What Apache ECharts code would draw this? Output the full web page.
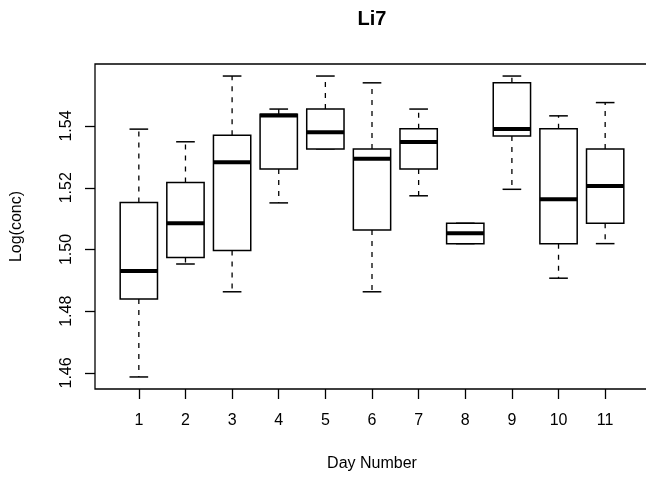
<!DOCTYPE html>
<html>
<head>
<meta charset="utf-8">
<script src="https://cdn.jsdelivr.net/npm/echarts@6/dist/echarts.min.js"></script>
<style>
  html, body { margin: 0; padding: 0; background: #fff; }
  #chart { width: 646px; height: 480px; }
</style>
</head>
<body>
<div id="chart"></div>
<script>
// Five-number summaries of Log(conc) for each sampling day
const days = [1, 2, 3, 4, 5, 6, 7, 8, 9, 10, 11];
const lowerWhisker  = [1.4587, 1.4953, 1.4863, 1.5151, 1.5326, 1.4863, 1.5174, 1.5019, 1.5195, 1.4907, 1.5019];
const lowerQuartile = [1.4840, 1.4974, 1.4997, 1.5261, 1.5326, 1.5063, 1.5261, 1.5019, 1.5368, 1.5019, 1.5085];
const medians       = [1.4930, 1.5085, 1.5283, 1.5434, 1.5380, 1.5294, 1.5348, 1.5053, 1.5390, 1.5163, 1.5206];
const upperQuartile = [1.5152, 1.5217, 1.5370, 1.5438, 1.5455, 1.5326, 1.5391, 1.5085, 1.5540, 1.5391, 1.5326];
const upperWhisker  = [1.5390, 1.5349, 1.5562, 1.5455, 1.5562, 1.5540, 1.5455, 1.5085, 1.5562, 1.5433, 1.5476];
const yTicks = [1.46, 1.48, 1.50, 1.52, 1.54];

const boxData = days.map((d, i) => [
  d, lowerWhisker[i], lowerQuartile[i], medians[i], upperQuartile[i], upperWhisker[i]
]);

const FONT = 'Liberation Sans';

function renderBox(params, api) {
  const x = api.value(0);
  const pLow = api.coord([x, api.value(1)]);
  const pQ1 = api.coord([x, api.value(2)]);
  const pMed = api.coord([x, api.value(3)]);
  const pQ3 = api.coord([x, api.value(4)]);
  const pHigh = api.coord([x, api.value(5)]);
  const cx = pMed[0];
  const halfBox = api.size([0.4, 0])[0];
  const halfStaple = api.size([0.2, 0])[0];
  const dashed = { stroke: '#000', lineWidth: 1.3, lineDash: [5, 6], fill: null };
  const solid = { stroke: '#000', lineWidth: 1.5, fill: null };
  return {
    type: 'group',
    children: [
      { type: 'line', shape: { x1: cx, y1: pQ3[1], x2: cx, y2: pHigh[1] }, style: dashed },
      { type: 'line', shape: { x1: cx, y1: pQ1[1], x2: cx, y2: pLow[1] }, style: dashed },
      { type: 'line', shape: { x1: cx - halfStaple, y1: pHigh[1], x2: cx + halfStaple, y2: pHigh[1] }, style: solid },
      { type: 'line', shape: { x1: cx - halfStaple, y1: pLow[1], x2: cx + halfStaple, y2: pLow[1] }, style: solid },
      {
        type: 'rect',
        shape: { x: cx - halfBox, y: pQ3[1], width: halfBox * 2, height: pQ1[1] - pQ3[1] },
        style: { stroke: '#000', lineWidth: 1.5, fill: '#fff' }
      },
      { type: 'line', shape: { x1: cx - halfBox, y1: pMed[1], x2: cx + halfBox, y2: pMed[1] },
        style: { stroke: '#000', lineWidth: 4, fill: null } }
    ]
  };
}

const chart = echarts.init(document.getElementById('chart'), null, { renderer: 'canvas' });
chart.setOption({
  animation: false,
  backgroundColor: '#fff',
  title: {
    text: 'Li7',
    left: 372,
    top: 9,
    padding: 0,
    textAlign: 'center',
    textStyle: { fontFamily: FONT, fontSize: 20, fontWeight: 'bold', color: '#000' }
  },
  grid: {
    left: 95, top: 64, width: 554, height: 325,
    show: true, borderColor: '#000', borderWidth: 1.3, backgroundColor: 'transparent',
    outerBoundsMode: 'none', containLabel: false
  },
  xAxis: {
    type: 'value',
    min: 0.06, max: 11.94,
    name: 'Day Number',
    nameLocation: 'middle',
    nameGap: 67,
    nameTextStyle: { fontFamily: FONT, fontSize: 16, color: '#000' },
    axisLine: { show: false },
    axisTick: { show: true, length: 10, customValues: days, lineStyle: { color: '#000', width: 1.3 } },
    axisLabel: { customValues: days, margin: 24, fontFamily: FONT, fontSize: 16, color: '#000' },
    splitLine: { show: false }
  },
  yAxis: {
    type: 'value',
    min: 1.4548, max: 1.5601,
    name: 'Log(conc)',
    nameLocation: 'middle',
    nameRotate: 90,
    nameGap: 70,
    nameTextStyle: { fontFamily: FONT, fontSize: 16, color: '#000' },
    axisLine: { show: false },
    axisTick: { show: true, length: 10, customValues: yTicks, lineStyle: { color: '#000', width: 1.3 } },
    axisLabel: {
      customValues: yTicks, rotate: 90, margin: 20,
      formatter: v => v.toFixed(2),
      fontFamily: FONT, fontSize: 16, color: '#000'
    },
    splitLine: { show: false }
  },
  series: [{
    type: 'custom',
    renderItem: renderBox,
    encode: { x: 0, y: [1, 2, 3, 4, 5] },
    data: boxData,
    clip: false
  }]
});
</script>
</body>
</html>
